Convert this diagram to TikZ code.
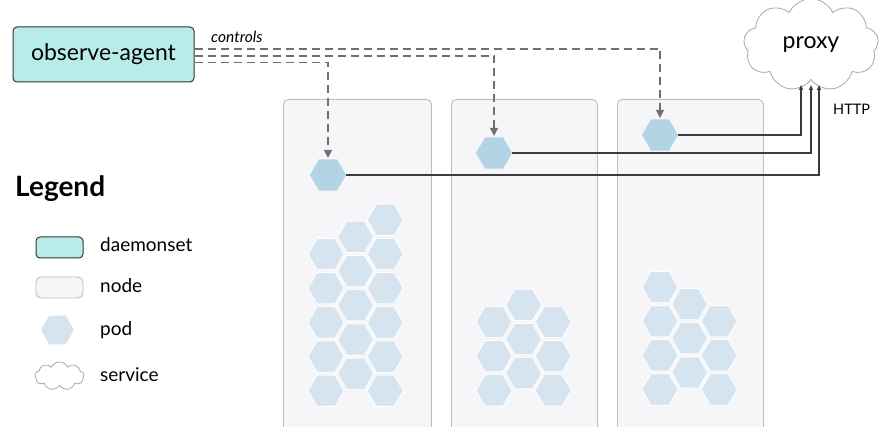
\documentclass[tikz,border=0pt]{standalone}
\usepackage{fontspec}
\setmainfont{Lato}
\usetikzlibrary{shapes.geometric,shapes.symbols,arrows.meta,calc}
\definecolor{agentfill}{HTML}{B8ECEA}
\definecolor{agentdraw}{HTML}{333333}
\definecolor{panelfill}{HTML}{F6F6F8}
\definecolor{paneldraw}{HTML}{BDBDBD}
\definecolor{hexbg}{HTML}{D5E4EF}
\definecolor{hexpod}{HTML}{B3D4E5}
\definecolor{dashcol}{HTML}{707070}
\definecolor{linecol}{HTML}{3C3C3C}
\definecolor{cloudcol}{HTML}{A8A8A8}
\begin{document}
\begin{tikzpicture}[x=1pt,y=-1pt,
  agentbox/.style={draw=agentdraw, fill=agentfill, rounded corners=4pt, line width=1pt, inner sep=0pt},
  panel/.style={draw=paneldraw, fill=panelfill, rounded corners=5pt, line width=0.9pt, inner sep=0pt},
  podhex/.style={regular polygon, regular polygon sides=6, minimum size=36pt, inner sep=0pt, outer sep=0pt, fill=hexpod},
  bghex/.style={regular polygon, regular polygon sides=6, minimum size=36pt, inner sep=0pt, outer sep=0pt, fill=hexbg, draw=white, line width=0.8pt},
  ctl/.style={draw=dashcol, line width=1.1pt, dash pattern=on 8pt off 5pt, -{Triangle[width=8pt,length=8pt]}, shorten >=1.5pt},
  http/.style={draw=linecol, line width=1.1pt, -{Triangle[width=4pt,length=5pt]}},
  cloudshape/.style={cloud, cloud puffs=9, cloud puff arc=130, draw=cloudcol, line width=0.8pt, fill=white, inner sep=0pt},
  lbl/.style={anchor=west, inner sep=0pt, font=\fontsize{19}{22}\selectfont},
]
\useasboundingbox (0,0) rectangle (884,427);
\clip (0,0) rectangle (884,427);

% worker nodes (panels)
\node[panel, anchor=north west, minimum width=148pt, minimum height=360pt] (n1) at (283,99) {};
\node[panel, anchor=north west, minimum width=146pt, minimum height=360pt] (n2) at (451,99) {};
\node[panel, anchor=north west, minimum width=146pt, minimum height=360pt] (n3) at (617,99) {};

% background pods
\foreach \c/\r [count=\i] in {0/0,0/2,0/4,0/6,0/8,1/-1,1/1,1/3,1/5,1/7,2/-2,2/0,2/2,2/4,2/6,2/8}
  \node[bghex] (pa\i) at ({326+\c*29.6},{254+(\r)*17.1}) {};
\foreach \c/\r [count=\i] in {0/0,0/2,0/4,1/-1,1/1,1/3,2/0,2/2,2/4}
  \node[bghex] (pb\i) at ({494+\c*29.6},{322+(\r)*17.1}) {};
\foreach \c/\r [count=\i] in {0/0,0/2,0/4,0/6,1/1,1/3,1/5,2/2,2/4,2/6}
  \node[bghex] (pc\i) at ({660+\c*29.6},{287+(\r)*17.1}) {};

% active pods
\node[podhex] (pod1) at (328,175) {};
\node[podhex] (pod2) at (494,153) {};
\node[podhex] (pod3) at (660,135) {};

% daemonset
\node[agentbox, minimum width=181pt, minimum height=55pt, font=\fontsize{23}{26}\selectfont] (agent) at (103.5,54.5) {observe-agent};
\node[anchor=west, inner sep=0pt, font=\fontsize{15.5}{18}\selectfont\itshape] (ctltxt) at (211,37) {controls};

% proxy service
\node[cloudshape, minimum width=135pt, minimum height=76pt, font=\fontsize{23}{26}\selectfont] (proxy) at (811,45) {proxy};
\node[anchor=west, inner sep=0pt, font=\fontsize{14.5}{17}\selectfont] (httptxt) at (833,109) {HTTP};

% control connectors
\coordinate (c1) at ($(agent.east)+(0,-5.5)$);
\coordinate (c2) at ($(agent.east)+(0,1.5)$);
\coordinate (c3) at ($(agent.east)+(0,8)$);
\draw[ctl] (c1) -| (pod3.north);
\draw[ctl] (c2) -| (pod2.north);
\draw[ctl] (c3) -| (pod1.north);

% http connectors
\coordinate (h1) at (801,85);
\coordinate (h2) at (811,85);
\coordinate (h3) at (819,85);
\draw[http] (pod3.east) -| (h1);
\draw[http] (pod2.east) -| (h2);
\draw[http] (pod1.east) -| (h3);

% legend
\node[anchor=west, inner sep=0pt, font=\fontsize{28}{32}\selectfont\bfseries] (legend) at (15,189) {Legend};
\node[agentbox, minimum width=47pt, minimum height=21pt] (lg1) at (59.5,247.5) {};
\node[lbl] (lt1) at (100,245) {daemonset};
\node[panel, minimum width=47pt, minimum height=21pt] (lg2) at (59.5,287.5) {};
\node[lbl] (lt2) at (100,286) {node};
\node[regular polygon, regular polygon sides=6, minimum size=33pt, inner sep=0pt, fill=hexbg] (lg3) at (57.5,330) {};
\node[lbl] (lt3) at (100,330) {pod};
\node[cloudshape, minimum width=49pt, minimum height=28pt] (lg4) at (59.5,376) {};
\node[lbl] (lt4) at (100,375) {service};
\end{tikzpicture}
\end{document}
